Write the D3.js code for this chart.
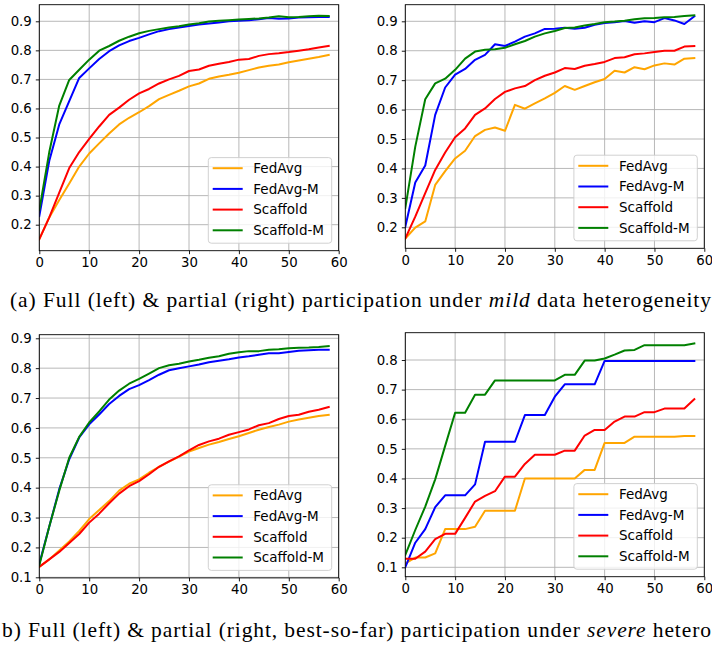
<!DOCTYPE html>
<html><head><meta charset="utf-8">
<script src="https://cdn.jsdelivr.net/npm/d3@7"></script>
<style>
html,body{margin:0;padding:0;background:#fff;}
svg{display:block;}
</style>
</head><body>
<svg id="fig" width="712" height="645"></svg>
<script>
// ---------- data ----------
const rounds = [0,2,4,6,8,10,12,14,16,18,20,22,24,26,28,30,32,34,36,38,40,42,44,46,48,50,52,54,56,58];
const seriesNames = ["FedAvg","FedAvg-M","Scaffold","Scaffold-M"];
const seriesColors = ["#FFA500","#0000FF","#FF0000","#008000"];
const xTicks = [0,10,20,30,40,50,60];

// (a) mild, full participation
const mildFull_FedAvg    = [0.15,0.225,0.285,0.342,0.40,0.445,0.48,0.514,0.545,0.568,0.587,0.608,0.632,0.647,0.661,0.676,0.686,0.702,0.71,0.716,0.723,0.732,0.741,0.747,0.751,0.759,0.765,0.771,0.777,0.784];
const mildFull_FedAvgM   = [0.23,0.42,0.545,0.625,0.705,0.738,0.77,0.797,0.817,0.832,0.843,0.855,0.866,0.873,0.879,0.884,0.889,0.892,0.896,0.9,0.902,0.904,0.907,0.911,0.909,0.91,0.913,0.914,0.915,0.915];
const mildFull_Scaffold  = [0.15,0.225,0.31,0.395,0.45,0.495,0.538,0.578,0.603,0.63,0.652,0.667,0.686,0.70,0.712,0.729,0.734,0.747,0.754,0.76,0.768,0.77,0.781,0.787,0.79,0.794,0.799,0.804,0.81,0.815];
const mildFull_ScaffoldM = [0.25,0.45,0.61,0.698,0.733,0.768,0.799,0.815,0.833,0.847,0.859,0.867,0.873,0.879,0.883,0.889,0.893,0.899,0.902,0.904,0.906,0.908,0.91,0.913,0.917,0.914,0.915,0.917,0.919,0.918];

// (a) mild, partial participation
const mildPart_FedAvg    = [0.162,0.199,0.22,0.344,0.391,0.434,0.46,0.51,0.531,0.539,0.528,0.616,0.603,0.621,0.638,0.657,0.68,0.667,0.68,0.693,0.704,0.732,0.726,0.744,0.737,0.75,0.757,0.753,0.773,0.775];
const mildPart_FedAvgM   = [0.202,0.352,0.41,0.582,0.675,0.719,0.738,0.769,0.786,0.822,0.816,0.831,0.848,0.859,0.874,0.875,0.878,0.875,0.878,0.888,0.894,0.897,0.901,0.895,0.9,0.897,0.911,0.903,0.891,0.917];
const mildPart_Scaffold  = [0.162,0.236,0.316,0.395,0.454,0.506,0.536,0.582,0.604,0.636,0.66,0.672,0.68,0.70,0.715,0.726,0.741,0.738,0.749,0.755,0.762,0.775,0.778,0.788,0.791,0.796,0.80,0.80,0.814,0.816];
const mildPart_ScaffoldM = [0.265,0.474,0.635,0.689,0.705,0.735,0.773,0.797,0.803,0.805,0.81,0.822,0.833,0.848,0.859,0.867,0.877,0.879,0.886,0.891,0.897,0.899,0.902,0.907,0.91,0.911,0.914,0.915,0.918,0.92];

// (b) severe, full participation
const sevFull_FedAvg    = [0.135,0.16,0.19,0.22,0.255,0.295,0.325,0.355,0.39,0.413,0.428,0.45,0.47,0.487,0.504,0.521,0.533,0.544,0.553,0.563,0.572,0.583,0.594,0.603,0.611,0.621,0.628,0.634,0.64,0.644];
const sevFull_FedAvgM   = [0.145,0.27,0.395,0.495,0.568,0.612,0.645,0.68,0.707,0.73,0.743,0.76,0.778,0.793,0.8,0.806,0.812,0.82,0.825,0.83,0.836,0.84,0.845,0.85,0.85,0.854,0.858,0.86,0.862,0.862];
const sevFull_Scaffold  = [0.135,0.16,0.185,0.215,0.245,0.283,0.313,0.348,0.38,0.405,0.422,0.445,0.47,0.488,0.505,0.525,0.543,0.555,0.564,0.577,0.586,0.595,0.609,0.616,0.63,0.64,0.644,0.654,0.661,0.67];
const sevFull_ScaffoldM = [0.14,0.27,0.39,0.5,0.57,0.618,0.655,0.695,0.725,0.748,0.764,0.782,0.8,0.81,0.815,0.822,0.828,0.835,0.84,0.848,0.853,0.857,0.857,0.862,0.863,0.867,0.868,0.869,0.871,0.874];

// (b) severe, partial participation (best-so-far)
const sevPart_FedAvg    = [0.113,0.133,0.133,0.147,0.229,0.229,0.229,0.237,0.291,0.291,0.291,0.291,0.40,0.40,0.40,0.40,0.40,0.40,0.429,0.429,0.52,0.52,0.52,0.541,0.541,0.541,0.541,0.541,0.543,0.543];
const sevPart_FedAvgM   = [0.1,0.183,0.229,0.303,0.343,0.343,0.343,0.38,0.524,0.524,0.524,0.524,0.614,0.614,0.614,0.676,0.718,0.718,0.718,0.718,0.797,0.797,0.797,0.797,0.797,0.797,0.797,0.797,0.797,0.797];
const sevPart_Scaffold  = [0.129,0.129,0.153,0.195,0.213,0.213,0.267,0.322,0.341,0.357,0.406,0.406,0.449,0.48,0.48,0.48,0.494,0.494,0.545,0.564,0.564,0.592,0.609,0.609,0.624,0.624,0.636,0.636,0.636,0.668];
const sevPart_ScaffoldM = [0.142,0.226,0.305,0.397,0.51,0.622,0.622,0.683,0.683,0.731,0.731,0.731,0.731,0.731,0.731,0.731,0.75,0.75,0.798,0.798,0.805,0.818,0.832,0.834,0.85,0.85,0.85,0.85,0.85,0.856];

const yTicksA  = [0.2,0.3,0.4,0.5,0.6,0.7,0.8,0.9];
const yTicksB1 = [0.1,0.2,0.3,0.4,0.5,0.6,0.7,0.8,0.9];
const yTicksB2 = [0.1,0.2,0.3,0.4,0.5,0.6,0.7,0.8];

// ---------- layout ----------
const panels = [
  {box:[39.3,4.7,338.7,250.7],  yDom:[0.1105,0.9571], yTicks:yTicksA,
   series:[mildFull_FedAvg,mildFull_FedAvgM,mildFull_Scaffold,mildFull_ScaffoldM]},
  {box:[405.3,4.7,704.3,248.3], yDom:[0.1286,0.9564], yTicks:yTicksA,
   series:[mildPart_FedAvg,mildPart_FedAvgM,mildPart_Scaffold,mildPart_ScaffoldM]},
  {box:[39.3,334.7,338.7,577.9], yDom:[0.098,0.912], yTicks:yTicksB1,
   series:[sevFull_FedAvg,sevFull_FedAvgM,sevFull_Scaffold,sevFull_ScaffoldM]},
  {box:[405.3,332.7,704.3,576.7], yDom:[0.0683,0.8922], yTicks:yTicksB2,
   series:[sevPart_FedAvg,sevPart_FedAvgM,sevPart_Scaffold,sevPart_ScaffoldM]}
];

const svg = d3.select("#fig");
svg.append("rect").attr("width",712).attr("height",645).attr("fill","#fff");

const tickFont = "'DejaVu Sans', sans-serif";

panels.forEach((p,pi)=>{
  const [x0,y0,x1,y1] = p.box;
  const x = d3.scaleLinear().domain([0,60]).range([x0,x1]);
  const y = d3.scaleLinear().domain(p.yDom).range([y1,y0]);
  const g = svg.append("g");
  const clipId = "clip"+pi;
  svg.append("clipPath").attr("id",clipId).append("rect")
    .attr("x",x0).attr("y",y0).attr("width",x1-x0).attr("height",y1-y0);

  // grid
  g.append("g").selectAll("line").data(xTicks).join("line")
    .attr("x1",d=>x(d)).attr("x2",d=>x(d)).attr("y1",y0).attr("y2",y1)
    .attr("stroke","#b0b0b0").attr("stroke-width",0.9);
  g.append("g").selectAll("line").data(p.yTicks).join("line")
    .attr("x1",x0).attr("x2",x1).attr("y1",d=>y(d)).attr("y2",d=>y(d))
    .attr("stroke","#b0b0b0").attr("stroke-width",0.9);

  // lines
  const line = d3.line().x((d,i)=>x(rounds[i])).y(d=>y(d));
  const lg = g.append("g").attr("clip-path",`url(#${clipId})`);
  p.series.forEach((s,si)=>{
    lg.append("path").attr("d",line(s)).attr("fill","none")
      .attr("stroke",seriesColors[si]).attr("stroke-width",2)
      .attr("stroke-linejoin","round").attr("stroke-linecap","square");
  });

  // axes
  const ax = g.append("g").attr("transform",`translate(0,${y1})`)
    .call(d3.axisBottom(x).tickValues(xTicks).tickFormat(d3.format("d")).tickSize(3.5).tickPadding(3.5));
  const ay = g.append("g").attr("transform",`translate(${x0},0)`)
    .call(d3.axisLeft(y).tickValues(p.yTicks).tickFormat(d3.format(".1f")).tickSize(3.5).tickPadding(4));
  [ax,ay].forEach(a=>{
    a.select(".domain").remove();
    a.selectAll(".tick line").attr("stroke","#000").attr("stroke-width",0.9);
    a.selectAll("text").attr("font-family",tickFont).attr("font-size",13.3).attr("fill","#000");
  });

  // frame
  g.append("rect").attr("x",x0).attr("y",y0).attr("width",x1-x0).attr("height",y1-y0)
    .attr("fill","none").attr("stroke","#000").attr("stroke-width",0.9);

  // legend
  const lw = 123.4, lh = 85.6;
  const lx = x1 - 7 - lw, ly = y1 - 7.5 - lh;
  const leg = g.append("g").attr("transform",`translate(${lx},${ly})`);
  leg.append("rect").attr("width",lw).attr("height",lh).attr("rx",3)
    .attr("fill","#fff").attr("fill-opacity",0.8).attr("stroke","#cccccc").attr("stroke-width",0.9);
  seriesNames.forEach((n,i)=>{
    const cy = 10.6 + i*20.7;
    leg.append("line").attr("x1",4.4).attr("x2",34.4).attr("y1",cy).attr("y2",cy)
      .attr("stroke",seriesColors[i]).attr("stroke-width",2);
    leg.append("text").attr("x",45).attr("y",cy).attr("dy","0.36em")
      .attr("font-family",tickFont).attr("font-size",13.5).attr("fill","#000").text(n);
  });
});

// captions
const capFont = "'Liberation Serif','Times New Roman',Times,serif";
const capA = svg.append("text").attr("x",10).attr("y",307).attr("font-family",capFont)
  .attr("font-size",21.5).attr("fill","#000")
  .attr("textLength",701).attr("lengthAdjust","spacing");
capA.append("tspan").text("(a) Full (left) & partial (right) participation under ");
capA.append("tspan").attr("font-style","italic").text("mild");
capA.append("tspan").text(" data heterogeneity");

const capB = svg.append("text").attr("x",2).attr("y",637).attr("font-family",capFont)
  .attr("font-size",21.5).attr("fill","#000")
  .attr("textLength",709).attr("lengthAdjust","spacing");
capB.append("tspan").text("b) Full (left) & partial (right, best-so-far) participation under ");
capB.append("tspan").attr("font-style","italic").text("severe");
capB.append("tspan").text(" hetero");
</script>
</body></html>
